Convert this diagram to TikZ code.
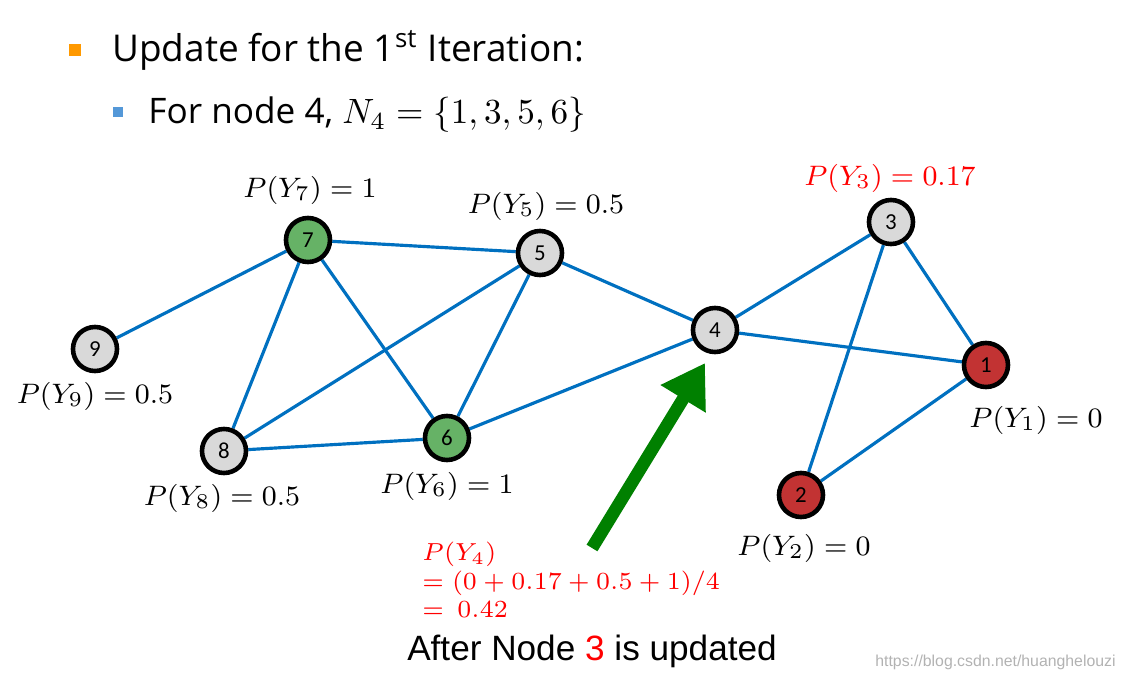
\documentclass[tikz,border=0pt]{standalone}
\usepackage{fontspec}
\usetikzlibrary{arrows.meta,backgrounds}
\setmainfont{Carlito}
\newfontfamily\arialf{Liberation Sans}
\newfontfamily\opens{Open Sans}
\definecolor{edc}{RGB}{0,112,192}
\begin{document}
\begin{tikzpicture}[x=0.01cm,y=-0.01cm,
  nd/.style={circle,draw=black,line width=1.3pt,minimum size=0.44cm,inner sep=0pt,font=\fontsize{6.5}{7}\selectfont},
  gr/.style={nd,fill=gray!30},
  gn/.style={nd,fill=green!50!black!60!white},
  rd/.style={nd,fill=red!70!black!80!white},
  ed/.style={draw=edc,line width=0.9pt},
  lb/.style={font=\fontsize{8}{9}\selectfont},
  rl/.style={lb,text=red}]
\useasboundingbox (0,0) rectangle (1133,679);
\fill[orange!80!yellow] (69,44) rectangle (81,56);
\node[anchor=west,font=\opens\fontsize{10.5}{12}\selectfont] (t1) at (100,50) {Update for the 1\textsuperscript{st} Iteration:};
\fill[cyan!60!blue!70] (113,107) rectangle (123,117);
\node[anchor=west,font=\opens\fontsize{10}{12}\selectfont] (t2) at (136,115) {For node 4, $N_4=\{1,3,5,6\}$};
\node[gn] (n7) at (308,240) {7};
\node[gr] (n5) at (540,253) {5};
\node[gr] (n9) at (95,349) {9};
\node[gr] (n8) at (224,451) {8};
\node[gn] (n6) at (447,438) {6};
\node[gr] (n4) at (715,330) {4};
\node[gr] (n3) at (891,222) {3};
\node[rd] (n1) at (986,365) {1};
\node[rd] (n2) at (801,495) {2};
\begin{pgfonlayer}{background}
\foreach \a/\b in {7/5,7/9,7/8,7/6,5/8,5/6,5/4,8/6,6/4,4/3,4/1,3/1,3/2,2/1}
  \draw[ed] (n\a) -- (n\b);
\end{pgfonlayer}
\node[lb] (l7) at (310,190) {$P(Y_7)=1$};
\node[lb] (l5) at (546,206) {$P(Y_5)=0.5$};
\node[lb] (l9) at (95,396) {$P(Y_9)=0.5$};
\node[lb] (l8) at (222,498) {$P(Y_8)=0.5$};
\node[lb] (l6) at (447,486) {$P(Y_6)=1$};
\node[rl] (l3) at (890,178) {$P(Y_3)=0.17$};
\node[lb] (l1) at (1036,420) {$P(Y_1)=0$};
\node[lb] (l2) at (804,548) {$P(Y_2)=0$};
\node[rl,anchor=north west,align=left,font=\fontsize{6.8}{8}\selectfont] (l4) at (410,530) {$P(Y_4)$\\$=(0+0.17+0.5+1)/4$\\$=\ 0.42$};
\coordinate (as) at (592,548);
\coordinate (ae) at (705,363);
\draw[green!50!black,line width=3.6pt,-{Triangle[length=0.42cm,width=0.5cm]}] (as) -- (ae);
\node[font=\arialf\fontsize{10}{11}\selectfont] (cap) at (592,651) {After Node {\color{red}3} is updated};
\node[anchor=east,text=gray!60,font=\arialf\fontsize{4.5}{5}\selectfont] (wm) at (1128,662) {https://blog.csdn.net/huanghelouzi};
\end{tikzpicture}
\end{document}
